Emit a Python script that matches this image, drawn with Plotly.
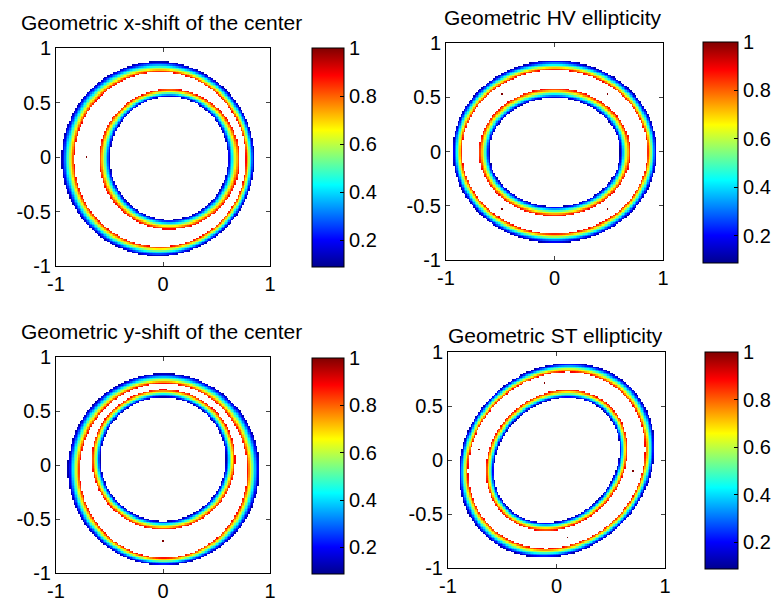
import numpy as np
import plotly.graph_objects as go

# ---------------- data ----------------
panel_titles = ["Geometric x-shift of the center", "Geometric HV ellipticity",
                "Geometric y-shift of the center", "Geometric ST ellipticity"]

# ring boundary ellipses: [center x, center y, semi-axis a, semi-axis b, tilt in degrees]
outer_ring_blue_edge = [[-0.048, -0.015, 0.899, 0.891, 0],
                        [0.000, 0.000, 0.940, 0.840, 0],
                        [0.005, -0.039, 0.895, 0.887, 0],
                        [0.000, 0.000, 0.958, 0.838, 45]]
outer_ring_red_edge = [[-0.030, -0.020, 0.800, 0.800, 0],
                       [0.000, 0.000, 0.852, 0.752, 0],
                       [0.003, -0.050, 0.780, 0.805, 0],
                       [0.000, 0.000, 0.863, 0.763, 45]]
inner_ring_red_edge = [[0.058, -0.018, 0.656, 0.642, 0],
                       [0.000, -0.005, 0.696, 0.587, 0],
                       [0.003, 0.053, 0.670, 0.648, 0],
                       [0.000, 0.000, 0.700, 0.600, 45]]
inner_ring_blue_edge = [[0.055, -0.010, 0.550, 0.563, 0],
                        [0.000, -0.005, 0.600, 0.500, 0],
                        [0.000, 0.056, 0.584, 0.571, 0],
                        [0.000, 0.000, 0.625, 0.525, 45]]

# values at the blue (outside) edge and at the red (gap side) edge of each ring
edge_values = [0.1, 0.9]

# isolated single points with value 1
dots_x = [[-0.72], [-0.49, 0.49, -0.49, 0.49], [0.0], [-0.115, -0.71, 0.693, 0.103]]
dots_y = [[0.0], [0.53, 0.53, -0.535, -0.535], [-0.70], [0.71, 0.093, -0.099, -0.716]]
dot_value = 1.0

color_range = [0.0875, 1.0]
colorbar_ticks = [0.2, 0.4, 0.6, 0.8, 1]
x_ticks = [-1, 0, 1]
y_ticks = [-1, -0.5, 0, 0.5, 1]
grid_points = 141

# ---------------- layout geometry (pixels) ----------------
W, H = 777, 602
axes_px = [(56, 270, 48, 266), (446, 663, 43, 260), (56, 270, 357, 573), (448, 665, 352, 568)]
cbar_px = [(312, 344, 48, 267), (703, 738, 42, 263), (312, 344, 358, 574), (705, 738, 352, 569)]
title_px = [(161, 22), (553, 18), (161, 332), (555, 335)]

jet = [[0.0, "rgb(0,0,143)"], [0.125, "rgb(0,0,255)"], [0.375, "rgb(0,255,255)"],
       [0.625, "rgb(255,255,0)"], [0.875, "rgb(255,0,0)"], [1.0, "rgb(128,0,0)"]]

grid = np.linspace(-1, 1, grid_points)
X, Y = np.meshgrid(grid, grid)


def ell_rho(e):
    cx, cy, a, b, tilt = e
    th = np.deg2rad(tilt)
    dx, dy = X - cx, Y - cy
    u = dx * np.cos(th) + dy * np.sin(th)
    v = -dx * np.sin(th) + dy * np.cos(th)
    return np.sqrt((u / a) ** 2 + (v / b) ** 2)


def band(blue_e, red_e, outer):
    s1 = ell_rho(blue_e) - 1
    s2 = ell_rho(red_e) - 1
    if outer:
        m = (s1 <= 0) & (s2 >= 0)
    else:
        m = (s1 >= 0) & (s2 <= 0)
    den = np.where(np.abs(s1 - s2) < 1e-12, 1e-12, s1 - s2)
    t = np.clip(s1 / den, 0, 1)
    val = edge_values[0] + (edge_values[1] - edge_values[0]) * t
    return m, val


fig = go.Figure()
font = "Liberation Sans, Arial, sans-serif"
tick_size = 20
title_size = 21

for i in range(4):
    Z = np.full(X.shape, np.nan)
    m, v = band(outer_ring_blue_edge[i], outer_ring_red_edge[i], True)
    Z[m] = v[m]
    m, v = band(inner_ring_blue_edge[i], inner_ring_red_edge[i], False)
    Z[m] = v[m]
    for dx, dy in zip(dots_x[i], dots_y[i]):
        ix = int(np.argmin(np.abs(grid - dx)))
        iy = int(np.argmin(np.abs(grid - dy)))
        Z[iy, ix] = dot_value

    x0, x1, y0, y1 = axes_px[i]
    c0, c1, cy0, cy1 = cbar_px[i]
    xa = "x" if i == 0 else f"x{i+1}"
    ya = "y" if i == 0 else f"y{i+1}"
    fig.add_trace(go.Heatmap(
        x=grid, y=grid, z=Z, colorscale=jet, zmin=color_range[0], zmax=color_range[1],
        xaxis=xa, yaxis=ya, hoverongaps=False,
        colorbar=dict(x=c0 / W, xanchor="left", y=1 - cy0 / H, yanchor="top",
                      len=cy1 - cy0, lenmode="pixels", thickness=c1 - c0, thicknessmode="pixels",
                      xpad=0, ypad=0, outlinewidth=1, outlinecolor="black",
                      tickvals=colorbar_ticks, ticks="inside", ticklen=4, tickcolor="black",
                      tickfont=dict(family=font, size=tick_size, color="black")),
    ))
    sfx = "" if i == 0 else str(i + 1)
    fig.layout["xaxis" + sfx] = dict(
        domain=[x0 / W, x1 / W], range=[-1, 1], anchor=ya, tickvals=x_ticks,
        ticktext=[f"{t:g}" for t in x_ticks],
        ticks="inside", ticklen=4, showline=True, linecolor="black", linewidth=1, mirror="ticks",
        showgrid=False, zeroline=False, tickfont=dict(family=font, size=tick_size, color="black"))
    fig.layout["yaxis" + sfx] = dict(
        domain=[1 - y1 / H, 1 - y0 / H], range=[-1, 1], anchor=xa, tickvals=y_ticks,
        ticktext=[f"{t:g}" for t in y_ticks],
        ticks="inside", ticklen=4, showline=True, linecolor="black", linewidth=1, mirror="ticks",
        showgrid=False, zeroline=False, tickfont=dict(family=font, size=tick_size, color="black"))
    tx, ty = title_px[i]
    fig.add_annotation(text=panel_titles[i], x=tx / W, y=1 - ty / H, xref="paper", yref="paper",
                       xanchor="center", yanchor="middle", showarrow=False,
                       font=dict(family=font, size=title_size, color="black"))

fig.update_layout(width=W, height=H, margin=dict(l=0, r=0, t=0, b=0, autoexpand=False),
                  paper_bgcolor="white", plot_bgcolor="white", showlegend=False)
fig.write_html("out.html", config={"displayModeBar": False},
               post_script="document.body.style.margin='0px';")
